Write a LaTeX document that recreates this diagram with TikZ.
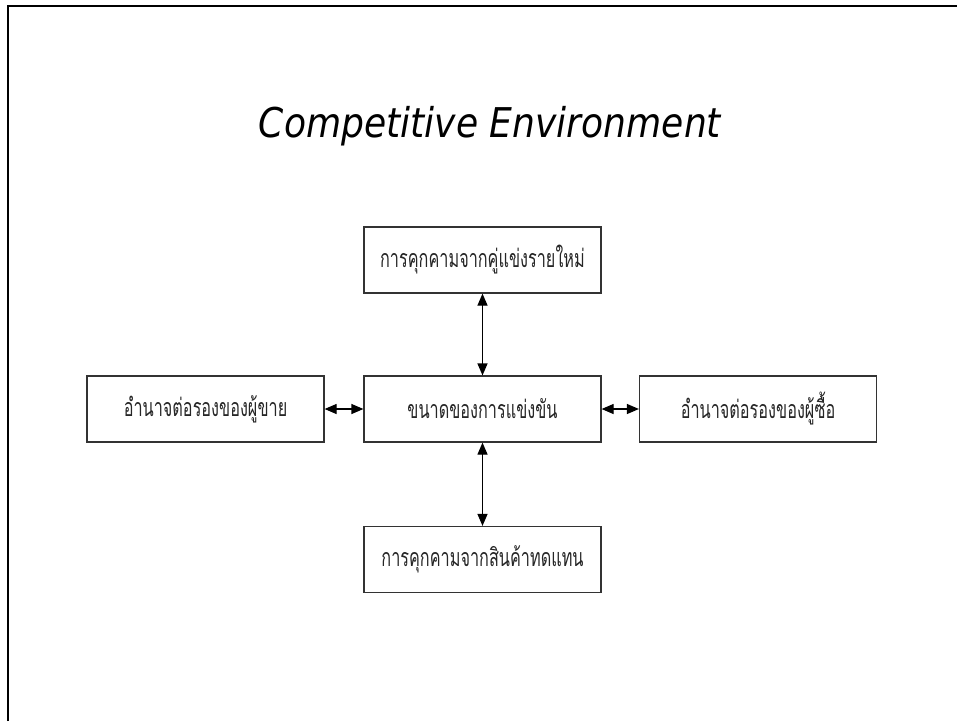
\documentclass[tikz,border=0pt]{standalone}
\usepackage{fontspec}
\usetikzlibrary{arrows.meta}
\newfontfamily\thaifont[Script=Thai,FakeStretch=0.65]{Loma}
\newfontfamily\titlefont[FakeStretch=0.88]{DejaVu Sans}
\begin{document}
\begin{tikzpicture}[x=1pt,y=-1pt,
  box/.style={draw=black!80, line width=1.2pt, minimum width=237pt, minimum height=66pt, inner sep=0pt,
    font=\thaifont\fontsize{25}{29}\selectfont, text=black!85},
  link/.style={{Triangle[length=12pt,width=10pt]}-{Triangle[length=12pt,width=10pt]}, line width=1.2pt}]
\useasboundingbox (0,0) rectangle (957,721);
\fill[white] (0,0) rectangle (957,721);
\draw[line width=2.5pt] (8,721) -- (8,6) -- (957,6);
\node[anchor=base, font=\titlefont\itshape\fontsize{41}{48}\selectfont] (title) at (490,137) {Competitive Environment};
\node[box] (top) at (482.5,260) {การคุกคามจากคู่แข่งรายใหม่};
\node[box] (mid) at (482.5,409) {ขนาดของการแข่งขัน};
\node[box] (left) at (205.5,409) {อำนาจต่อรองของผู้ขาย};
\node[box] (right) at (758,409) {อำนาจต่อรองของผู้ซื้อ};
\node[box] (bot) at (482.5,559.5) {การคุกคามจากสินค้าทดแทน};
\draw[link] (top) -- (mid);
\draw[link] (mid) -- (bot);
\draw[link] (left) -- (mid);
\draw[link] (mid) -- (right);
\end{tikzpicture}
\end{document}
